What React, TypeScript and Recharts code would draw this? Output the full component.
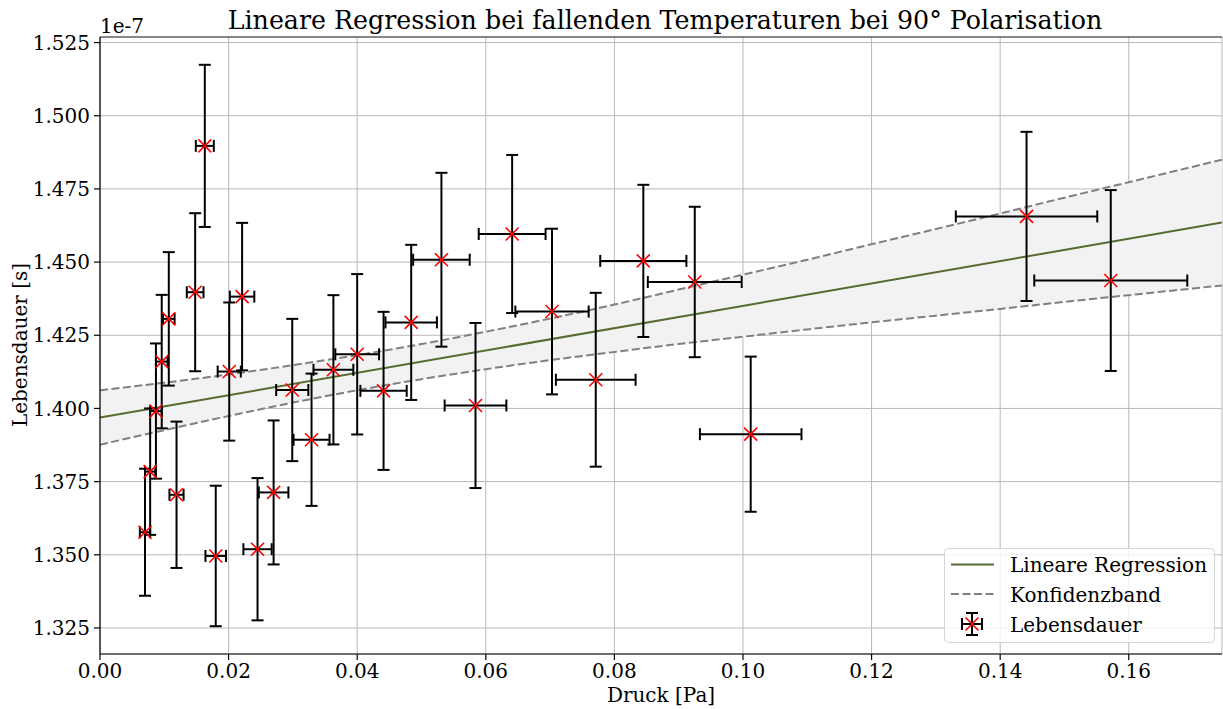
import React from 'react';
import {
  ComposedChart,
  XAxis,
  YAxis,
  CartesianGrid,
  Scatter,
  ErrorBar,
  Line,
  Area,
  Legend,
  ReferenceLine,
  Customized,
} from 'recharts';

// ---- data (lifetime in units of 1e-7 s) ----
const pressure = [
  0.007, 0.0078, 0.0087, 0.0096, 0.0107, 0.0119, 0.0148, 0.0163, 0.018, 0.0201,
  0.0221, 0.0245, 0.027, 0.0299, 0.0329, 0.0363, 0.04, 0.0441, 0.0484, 0.0531,
  0.0584, 0.0641, 0.0703, 0.0771, 0.0845, 0.0925, 0.1012, 0.1441, 0.1572,
];
const lifetime = [
  1.3577, 1.3784, 1.3991, 1.416, 1.4306, 1.3705, 1.4397, 1.4897, 1.3496, 1.4126,
  1.4382, 1.3519, 1.3713, 1.4063, 1.3893, 1.4132, 1.4185, 1.406, 1.4294, 1.4508,
  1.401, 1.4596, 1.4331, 1.4098, 1.4504, 1.4432, 1.3912, 1.4656, 1.4437,
];
const pressureErr = [
  0.0008, 0.0008, 0.0009, 0.0009, 0.0009, 0.0011, 0.0013, 0.0014, 0.0016, 0.0018,
  0.0019, 0.0022, 0.0023, 0.0025, 0.0028, 0.0031, 0.0034, 0.0036, 0.004, 0.0044,
  0.0048, 0.0052, 0.0057, 0.0062, 0.0067, 0.0073, 0.0079, 0.011, 0.0119,
];
const lifetimeErr = [
  0.0217, 0.0216, 0.0231, 0.0228, 0.0228, 0.025, 0.027, 0.0277, 0.024, 0.0236,
  0.0252, 0.0243, 0.0246, 0.0243, 0.0226, 0.0255, 0.0274, 0.027, 0.0265, 0.0297,
  0.0282, 0.027, 0.0283, 0.0297, 0.026, 0.0257, 0.0265, 0.0289, 0.0309,
];

const fitX = [0, 0.1745];
const fitY = [1.3969, 1.4635];

const bandX = [
  0, 0.01, 0.02, 0.03, 0.04, 0.05, 0.06, 0.07, 0.08, 0.09, 0.1, 0.11, 0.12, 0.13,
  0.14, 0.15, 0.16, 0.17, 0.1745,
];
const bandUpper = [
  1.4062, 1.4088, 1.4116, 1.4148, 1.4182, 1.422, 1.4262, 1.4307, 1.4355, 1.4406,
  1.4457, 1.4508, 1.4561, 1.4613, 1.4666, 1.472, 1.4773, 1.4826, 1.485,
];
const bandLower = [
  1.3876, 1.3926, 1.3974, 1.402, 1.4062, 1.41, 1.4134, 1.4165, 1.4193, 1.422,
  1.4245, 1.427, 1.4294, 1.4317, 1.434, 1.4364, 1.4387, 1.441, 1.442,
];

const xTicks = [0, 0.02, 0.04, 0.06, 0.08, 0.1, 0.12, 0.14, 0.16];
const yTicks = [1.325, 1.35, 1.375, 1.4, 1.425, 1.45, 1.475, 1.5, 1.525];
const xDomain = [0, 0.1745];
const yDomain = [1.3161, 1.5269];

const titleText = 'Lineare Regression bei fallenden Temperaturen bei 90° Polarisation';
const xLabelText = 'Druck [Pa]';
const yLabelText = 'Lebensdauer [s]';
const offsetText = '1e-7';
const legendLabels = ['Lineare Regression', 'Konfidenzband', 'Lebensdauer'];

// ---- derived tables ----
const points = pressure.map((x, i) => ({ x, y: lifetime[i], xe: pressureErr[i], ye: lifetimeErr[i] }));
const fitData = fitX.map((x, i) => ({ x, fit: fitY[i] }));
const bandData = bandX.map((x, i) => ({
  x,
  band: [bandLower[i], bandUpper[i]],
  lo: bandLower[i],
  hi: bandUpper[i],
}));

const FONT = '"DejaVu Serif", serif';
const GREEN = '#556b2f';
const GRAY = '#808080';
const FS = 20;

const XMarker = (props: any) => {
  const { cx, cy } = props;
  if (cx == null || cy == null) return null;
  const s = 6.5;
  return (
    <g>
      <line x1={cx - s} y1={cy - s} x2={cx + s} y2={cy + s} stroke="#ff0000" strokeWidth={1.6} />
      <line x1={cx - s} y1={cy + s} x2={cx + s} y2={cy - s} stroke="#ff0000" strokeWidth={1.6} />
    </g>
  );
};

const LegendBox = () => (
  <svg width={272} height={96} style={{ display: 'block' }}>
    <rect x={0.5} y={0.5} width={270} height={94} rx={4} ry={4} fill="rgba(255,255,255,0.8)" stroke="#d6d6d6" strokeWidth={1} />
    <line x1={7} y1={16.5} x2={50} y2={16.5} stroke={GREEN} strokeWidth={2} />
    <line x1={7} y1={46} x2={50} y2={46} stroke={GRAY} strokeWidth={2} strokeDasharray="8 3.5" />
    <g stroke="#000" strokeWidth={2}>
      <line x1={28} y1={65} x2={28} y2={87} />
      <line x1={22} y1={65} x2={34} y2={65} />
      <line x1={22} y1={87} x2={34} y2={87} />
      <line x1={18} y1={76} x2={38} y2={76} />
      <line x1={18} y1={70} x2={18} y2={82} />
      <line x1={38} y1={70} x2={38} y2={82} />
    </g>
    <line x1={21.5} y1={69.5} x2={34.5} y2={82.5} stroke="#ff0000" strokeWidth={1.6} />
    <line x1={21.5} y1={82.5} x2={34.5} y2={69.5} stroke="#ff0000" strokeWidth={1.6} />
    {legendLabels.map((t, i) => (
      <text key={t} x={66} y={24 + i * 30} fontFamily={FONT} fontSize={FS} fill="#000">
        {t}
      </text>
    ))}
  </svg>
);

const Texts = () => (
  <g fontFamily={FONT} fill="#000">
    <text x={665} y={28.5} textAnchor="middle" fontSize={25.3}>
      {titleText}
    </text>
    <text x={100} y={33} fontSize={FS}>
      {offsetText}
    </text>
    <text x={661} y={702} textAnchor="middle" fontSize={FS}>
      {xLabelText}
    </text>
    <text x={27} y={345} textAnchor="middle" fontSize={FS} transform="rotate(-90, 27, 345)">
      {yLabelText}
    </text>
  </g>
);

export default function App() {
  return (
    <div style={{ position: 'absolute', left: 0, top: 0, width: 1223, height: 709, background: '#fff' }}>
      <ComposedChart
        width={1223}
        height={709}
        margin={{ top: 37, right: 1, bottom: 0, left: 0 }}
        style={{ fontFamily: FONT }}
      >
        <CartesianGrid stroke="#b8b8b8" strokeWidth={1} />
        <XAxis
          type="number"
          dataKey="x"
          domain={xDomain}
          ticks={xTicks}
          allowDataOverflow
          height={55}
          tickFormatter={(v: number) => v.toFixed(2)}
          tick={{ fontSize: FS, fill: '#000', fontFamily: FONT }}
          axisLine={{ stroke: '#000', strokeWidth: 1.2 }}
          tickLine={{ stroke: '#000', strokeWidth: 1.2 }}
          tickSize={6}
          tickMargin={4}
        />
        <YAxis
          type="number"
          domain={yDomain}
          ticks={yTicks}
          allowDataOverflow
          width={100}
          tickFormatter={(v: number) => v.toFixed(3)}
          tick={{ fontSize: FS, fill: '#000', fontFamily: FONT }}
          axisLine={{ stroke: '#000', strokeWidth: 1.2 }}
          tickLine={{ stroke: '#000', strokeWidth: 1.2 }}
          tickSize={6}
          tickMargin={4}
        />
        <Area
          data={bandData}
          dataKey="band"
          type="monotone"
          fill="#f2f2f2"
          fillOpacity={1}
          stroke="none"
          isAnimationActive={false}
          legendType="none"
        />
        <Line
          data={fitData}
          dataKey="fit"
          type="linear"
          stroke={GREEN}
          strokeWidth={2}
          dot={false}
          activeDot={false}
          isAnimationActive={false}
        />
        <Line
          data={bandData}
          dataKey="hi"
          type="monotone"
          stroke={GRAY}
          strokeWidth={2}
          strokeDasharray="8 3.5"
          dot={false}
          activeDot={false}
          isAnimationActive={false}
        />
        <Line
          data={bandData}
          dataKey="lo"
          type="monotone"
          stroke={GRAY}
          strokeWidth={2}
          strokeDasharray="8 3.5"
          dot={false}
          activeDot={false}
          isAnimationActive={false}
        />
        <ReferenceLine y={yDomain[1]} stroke="#333" strokeWidth={1.2} />
        <Scatter data={points} dataKey="y" shape={XMarker} isAnimationActive={false}>
          <ErrorBar dataKey="ye" direction="y" width={6} stroke="#000" strokeWidth={2} />
          <ErrorBar dataKey="xe" direction="x" width={6} stroke="#000" strokeWidth={2} />
        </Scatter>
        <Legend
          layout="vertical"
          align="center"
          verticalAlign="middle"
          content={() => <LegendBox />}
          wrapperStyle={{ left: 944, top: 548, width: 272, height: 96, margin: 0 }}
        />
        <Customized component={Texts} />
      </ComposedChart>
    </div>
  );
}
